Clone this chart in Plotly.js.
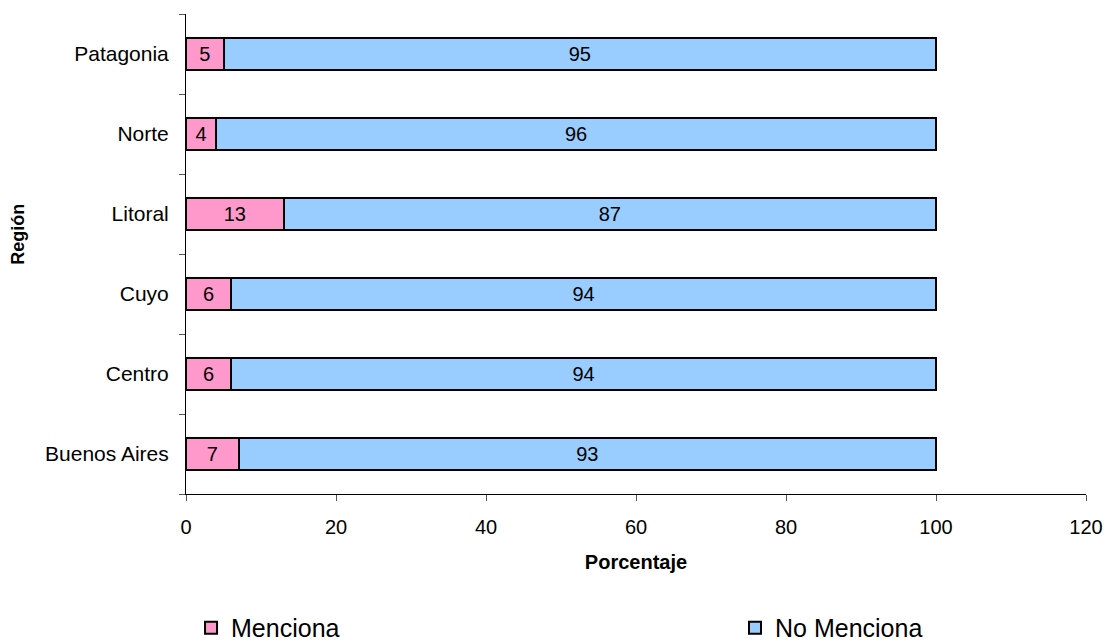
<!DOCTYPE html>
<html>
<head>
<meta charset="utf-8">
<script src="https://cdn.plot.ly/plotly-3.0.1.min.js"></script>
<style>
  html, body { margin: 0; padding: 0; background: #fff; }
  #chart { width: 1107px; height: 642px; }
</style>
</head>
<body>
<div id="chart"></div>
<script>
// Regions, bottom to top as they appear on the axis
const regiones = ['Buenos Aires', 'Centro', 'Cuyo', 'Litoral', 'Norte', 'Patagonia'];
const menciona = [7, 6, 6, 13, 4, 5];
const noMenciona = [93, 94, 94, 87, 96, 95];
const xTicks = [0, 20, 40, 60, 80, 100, 120];

const font = 'Liberation Sans, Arial, sans-serif';

const barStyle = {
  type: 'bar',
  orientation: 'h',
  y: regiones,
  width: 0.4,
  textposition: 'inside',
  insidetextanchor: 'middle',
  textangle: 0,
  constraintext: 'none',
  textfont: { family: font, size: 20, color: '#000' },
  hoverinfo: 'skip'
};

const traces = [
  Object.assign({}, barStyle, {
    name: 'Menciona',
    x: menciona,
    text: menciona.map(String),
    marker: { color: '#FF99CC', line: { color: '#000', width: 2 } },
    legend: 'legend'
  }),
  Object.assign({}, barStyle, {
    name: 'No Menciona',
    x: noMenciona,
    text: noMenciona.map(String),
    marker: { color: '#99CCFF', line: { color: '#000', width: 2 } },
    legend: 'legend2'
  })
];

const legendBase = {
  orientation: 'h',
  yref: 'paper',
  y: -0.279,
  yanchor: 'middle',
  xanchor: 'left',
  font: { family: font, size: 25, color: '#000' },
  bgcolor: 'rgba(0,0,0,0)',
  itemwidth: 30
};

const layout = {
  width: 1107,
  height: 642,
  margin: { l: 186, r: 21, t: 14, b: 148, pad: 0, autoexpand: false },
  paper_bgcolor: '#fff',
  plot_bgcolor: '#fff',
  barmode: 'stack',
  showlegend: true,
  font: { family: font, size: 20, color: '#000' },
  xaxis: {
    range: [0, 120],
    tickvals: xTicks,
    ticktext: xTicks.map(String),
    showgrid: false,
    zeroline: false,
    showline: true,
    linecolor: '#000',
    linewidth: 1,
    ticks: 'outside',
    ticklen: 6,
    tickcolor: '#555',
    tickfont: { family: font, size: 20 },
    ticklabelstandoff: 9,
    title: { text: '<b>Porcentaje</b>', font: { family: font, size: 20 }, standoff: 17 }
  },
  yaxis: {
    type: 'category',
    categoryorder: 'array',
    categoryarray: regiones,
    tickson: 'boundaries',
    showgrid: false,
    zeroline: false,
    showline: true,
    linecolor: '#000',
    linewidth: 1,
    ticks: 'outside',
    ticklen: 6,
    tickcolor: '#555',
    tickfont: { family: font, size: 21 },
    ticklabelstandoff: 12
  },
  // Vertical axis title, set slightly above the plot's midline
  annotations: [{
    text: '<b>Región</b>',
    xref: 'paper', yref: 'paper',
    x: -0.187, y: 0.5417,
    xanchor: 'center', yanchor: 'middle',
    textangle: -90,
    showarrow: false,
    font: { family: font, size: 18, color: '#000' }
  }],
  legend: Object.assign({}, legendBase, { x: 0.0056 }),
  legend2: Object.assign({}, legendBase, { x: 0.61 })
};

Plotly.newPlot('chart', traces, layout, { staticPlot: true, displayModeBar: false });
</script>
</body>
</html>
